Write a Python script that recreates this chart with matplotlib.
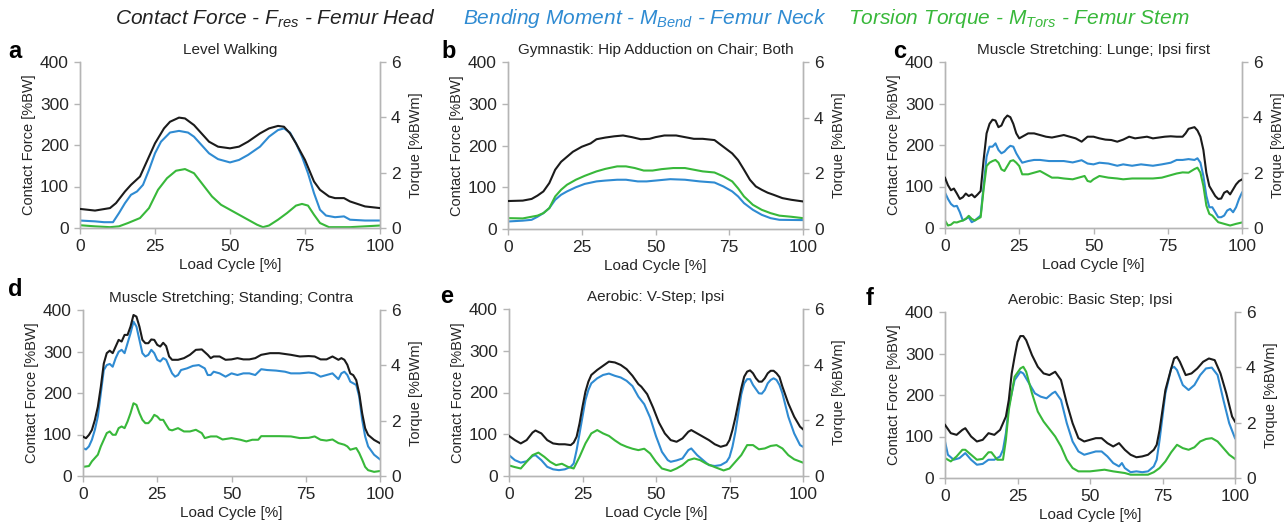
import matplotlib
matplotlib.use("Agg")
import matplotlib.pyplot as plt

plt.rcParams['font.family'] = ['Liberation Sans', 'DejaVu Sans']
plt.rcParams['mathtext.fontset'] = 'custom'
plt.rcParams['mathtext.rm'] = 'Liberation Sans'
plt.rcParams['mathtext.it'] = 'Liberation Sans:italic'

# ---- data: contact force [%BW] (black), bending / torsion [%BWm] (blue / green)
# a - Level Walking
a_force_x = [0, 5, 10, 12, 15, 17, 20, 22, 25, 28, 30, 33, 35, 38, 40, 43, 46, 50, 53, 56, 60, 63,
             66, 68, 70, 72, 75, 78, 80, 83, 85, 88, 90, 95, 100]
a_force = [46, 42, 48, 60, 88, 104, 124, 156, 204, 240, 256, 266, 264, 248, 232, 208, 196, 192, 196,
           208, 228, 240, 246, 244, 228, 204, 164, 112, 92, 76, 72, 72, 64, 52, 48]
a_bend_x = [0, 5, 8, 11, 13, 15, 17, 19, 21, 23, 25, 27, 30, 33, 36, 38, 40, 43, 46, 50, 53, 56, 60,
            63, 66, 68, 70, 72, 74, 76, 78, 80, 82, 85, 88, 90, 95, 100]
a_bend = [0.27, 0.24, 0.21, 0.21, 0.54, 0.90, 1.20, 1.32, 1.56, 2.10, 2.70, 3.12, 3.45, 3.51, 3.45,
          3.30, 3.06, 2.70, 2.49, 2.37, 2.46, 2.64, 2.94, 3.30, 3.54, 3.60, 3.45, 3.06, 2.58, 1.98,
          1.26, 0.66, 0.45, 0.39, 0.42, 0.30, 0.27, 0.27]
a_tors_x = [0, 5, 10, 13, 16, 20, 23, 26, 29, 32, 35, 38, 41, 44, 47, 50, 53, 56, 59, 61, 63, 66, 69,
            72, 74, 76, 78, 80, 83, 90, 100]
a_tors = [0.10, 0.06, 0.03, 0.06, 0.18, 0.36, 0.72, 1.38, 1.80, 2.07, 2.13, 1.98, 1.56, 1.14, 0.84,
          0.66, 0.48, 0.30, 0.12, 0.03, 0.09, 0.30, 0.54, 0.81, 0.87, 0.81, 0.48, 0.18, 0.03, 0.03, 0.09]

# b - Gymnastik: Hip Adduction on Chair; Both
b_force_x = [0, 5, 8, 10, 12, 14, 16, 18, 20, 22, 25, 28, 30, 33, 36, 39, 42, 45, 48, 50, 53, 57, 60,
             63, 66, 70, 73, 76, 78, 80, 82, 84, 86, 88, 90, 93, 96, 100]
b_force = [67, 68, 72, 80, 90, 110, 142, 161, 173, 185, 197, 205, 215, 219, 222, 224, 220, 215, 216,
           220, 224, 224, 220, 216, 216, 213, 197, 181, 165, 142, 118, 102, 94, 87, 82, 74, 70, 66]
b_bend_x = [0, 5, 8, 10, 12, 14, 16, 18, 20, 23, 26, 30, 33, 37, 40, 44, 47, 50, 55, 60, 65, 70, 73,
            76, 78, 80, 83, 86, 89, 92, 100]
b_bend = [0.27, 0.30, 0.33, 0.44, 0.57, 0.75, 1.05, 1.23, 1.35, 1.50, 1.62, 1.71, 1.74, 1.77, 1.77,
          1.71, 1.71, 1.74, 1.79, 1.77, 1.71, 1.67, 1.53, 1.35, 1.17, 0.93, 0.69, 0.51, 0.39, 0.33, 0.32]
b_tors_x = [0, 5, 8, 10, 12, 14, 16, 18, 20, 23, 26, 30, 33, 37, 40, 43, 46, 49, 52, 56, 60, 63, 66,
            70, 73, 76, 78, 80, 83, 86, 89, 92, 96, 100]
b_tors = [0.39, 0.38, 0.44, 0.48, 0.57, 0.75, 1.17, 1.41, 1.59, 1.77, 1.91, 2.07, 2.16, 2.25, 2.25,
          2.19, 2.10, 2.10, 2.15, 2.19, 2.19, 2.13, 2.07, 2.03, 1.89, 1.71, 1.46, 1.17, 0.87, 0.69,
          0.57, 0.48, 0.44, 0.39]

# c - Muscle Stretching: Lunge; Ipsi first
c_force_x = [0, 1, 2, 3, 4, 5, 6, 7, 8, 9, 10, 11, 12, 13, 14, 15, 16, 17, 18, 19, 20, 21, 22, 23,
             24, 25, 26, 28, 30, 32, 34, 36, 38, 40, 42, 44, 46, 48, 50, 52, 54, 56, 58, 60, 62, 64,
             66, 68, 70, 72, 74, 76, 78, 80, 81, 82, 84, 85, 86, 87, 88, 89, 90, 91, 92, 93, 94, 95,
             96, 97, 98, 99, 100]
c_force = [121, 103, 91, 95, 83, 70, 74, 83, 77, 81, 74, 81, 89, 164, 228, 251, 261, 259, 243, 247,
           263, 271, 267, 251, 228, 216, 220, 228, 228, 224, 220, 218, 221, 224, 220, 216, 208, 220,
           220, 216, 213, 212, 208, 213, 220, 216, 218, 220, 216, 218, 220, 221, 220, 220, 228, 239,
           243, 235, 220, 188, 133, 101, 89, 77, 70, 71, 85, 89, 81, 93, 105, 113, 117]
c_bend_x = [0, 1, 2, 3, 4, 5, 6, 7, 8, 9, 10, 11, 12, 13, 14, 15, 16, 17, 18, 19, 20, 21, 22, 23, 24,
            25, 26, 28, 30, 32, 35, 38, 40, 43, 46, 48, 50, 52, 55, 58, 60, 63, 66, 70, 73, 76, 78,
            80, 82, 84, 85, 86, 87, 88, 89, 90, 91, 92, 93, 94, 95, 96, 97, 98, 99, 100]
c_bend = [1.28, 1.05, 0.87, 0.78, 0.80, 0.57, 0.27, 0.33, 0.39, 0.21, 0.27, 0.36, 0.45, 1.52, 2.58,
          2.94, 2.94, 3.06, 2.82, 2.70, 2.76, 2.88, 2.97, 2.94, 2.70, 2.52, 2.36, 2.42, 2.46, 2.46,
          2.42, 2.42, 2.42, 2.37, 2.45, 2.33, 2.30, 2.36, 2.33, 2.25, 2.30, 2.25, 2.30, 2.25, 2.30,
          2.36, 2.46, 2.46, 2.49, 2.46, 2.52, 2.36, 1.88, 1.16, 0.75, 0.75, 0.57, 0.39, 0.39, 0.45,
          0.63, 0.69, 0.57, 0.75, 1.05, 1.28]
c_tors_x = [0, 1, 2, 3, 4, 5, 6, 7, 8, 9, 10, 11, 12, 13, 14, 15, 16, 17, 18, 19, 20, 21, 22, 23, 24,
            25, 26, 28, 30, 32, 34, 36, 38, 40, 43, 45, 47, 48, 49, 50, 52, 55, 58, 60, 63, 66, 70,
            73, 76, 78, 80, 82, 84, 85, 86, 87, 88, 89, 90, 91, 92, 94, 96, 98, 100]
c_tors = [0.27, 0.09, 0.12, 0.21, 0.20, 0.24, 0.27, 0.33, 0.44, 0.33, 0.27, 0.33, 0.39, 1.40, 2.24,
          2.36, 2.42, 2.46, 2.36, 2.12, 2.06, 2.24, 2.42, 2.45, 2.36, 2.24, 1.94, 1.94, 2.00, 2.06,
          1.94, 1.82, 1.82, 1.79, 1.76, 1.82, 1.88, 1.70, 1.67, 1.76, 1.88, 1.82, 1.79, 1.76, 1.79,
          1.79, 1.79, 1.82, 1.91, 1.97, 2.01, 2.00, 2.13, 2.18, 2.00, 1.52, 0.81, 0.51, 0.45, 0.33,
          0.21, 0.15, 0.09, 0.15, 0.20]

# d - Muscle Stretching; Standing; Contra
d_force_x = [0, 1, 2, 3, 4, 5, 6, 7, 8, 9, 10, 11, 12, 13, 14, 15, 16, 17, 18, 19, 20, 21, 22, 23,
             24, 25, 26, 27, 28, 29, 30, 32, 34, 36, 38, 40, 42, 43, 44, 46, 48, 50, 52, 54, 56, 58,
             60, 63, 66, 70, 73, 76, 78, 80, 82, 84, 86, 87, 88, 89, 90, 91, 92, 93, 94, 95, 96, 98,
             100]
d_force = [95, 91, 99, 111, 135, 167, 215, 271, 296, 302, 296, 312, 328, 324, 340, 340, 360, 388,
           384, 360, 328, 320, 320, 329, 328, 316, 312, 321, 313, 288, 280, 280, 284, 292, 304, 305,
           292, 284, 288, 288, 280, 281, 284, 281, 281, 284, 292, 296, 296, 292, 288, 289, 288, 281,
           281, 288, 280, 284, 280, 268, 247, 243, 231, 199, 151, 115, 99, 87, 79]
d_bend_x = [0, 1, 2, 3, 4, 5, 6, 7, 8, 9, 10, 11, 12, 13, 14, 15, 16, 17, 18, 19, 20, 21, 22, 23, 24,
            25, 26, 27, 28, 29, 30, 31, 32, 33, 35, 37, 39, 41, 42, 43, 44, 46, 48, 50, 52, 54, 56,
            58, 60, 62, 65, 68, 70, 73, 76, 78, 80, 82, 84, 86, 87, 88, 89, 90, 91, 92, 93, 94, 95,
            96, 98, 100]
d_bend = [1.01, 0.96, 1.07, 1.31, 1.67, 2.15, 2.99, 3.83, 4.01, 4.05, 3.95, 4.26, 4.49, 4.56, 4.44,
          4.80, 5.16, 5.58, 5.40, 4.92, 4.44, 4.32, 4.38, 4.56, 4.44, 4.20, 4.14, 4.26, 4.20, 3.95,
          3.71, 3.59, 3.65, 3.83, 3.89, 3.98, 4.01, 3.89, 3.65, 3.65, 3.77, 3.71, 3.59, 3.71, 3.65,
          3.71, 3.71, 3.65, 3.86, 3.83, 3.81, 3.77, 3.71, 3.71, 3.74, 3.71, 3.59, 3.65, 3.71, 3.50,
          3.71, 3.77, 3.65, 3.41, 3.35, 3.29, 2.87, 2.03, 1.43, 1.07, 0.77, 0.60]
d_tors_x = [0, 2, 3, 4, 5, 6, 7, 8, 9, 10, 11, 12, 13, 14, 15, 16, 17, 18, 19, 20, 21, 22, 23, 24, 25,
            26, 27, 28, 29, 30, 32, 34, 36, 38, 40, 41, 43, 45, 47, 50, 53, 55, 57, 59, 60, 63, 66,
            70, 73, 76, 78, 80, 82, 84, 86, 88, 89, 90, 91, 92, 93, 94, 95, 96, 98, 100]
d_tors = [0.33, 0.36, 0.53, 0.65, 0.77, 1.07, 1.31, 1.55, 1.61, 1.49, 1.49, 1.73, 1.79, 1.73, 1.97,
          2.27, 2.63, 2.57, 2.27, 2.03, 1.91, 1.91, 2.03, 2.21, 2.15, 2.03, 2.03, 1.85, 1.68, 1.65,
          1.73, 1.61, 1.61, 1.67, 1.55, 1.37, 1.43, 1.43, 1.32, 1.37, 1.31, 1.25, 1.31, 1.31, 1.44,
          1.44, 1.44, 1.43, 1.37, 1.38, 1.43, 1.31, 1.28, 1.32, 1.19, 1.13, 1.07, 0.95, 0.98, 1.01,
          0.83, 0.59, 0.33, 0.21, 0.15, 0.18]

# e - Aerobic: V-Step; Ipsi
e_force_x = [0, 2, 4, 6, 8, 9, 11, 13, 15, 17, 19, 21, 22, 23, 24, 25, 26, 27, 28, 30, 32, 34, 36, 38,
             40, 42, 44, 45, 47, 49, 51, 53, 55, 57, 59, 61, 62, 64, 66, 68, 70, 72, 74, 75, 76, 77,
             78, 79, 80, 81, 82, 83, 84, 85, 86, 87, 88, 89, 90, 91, 92, 93, 95, 97, 99, 100]
e_force = [96, 86, 78, 86, 104, 109, 102, 86, 78, 76, 76, 74, 80, 94, 126, 166, 202, 226, 242, 254,
           264, 274, 272, 266, 256, 240, 220, 214, 196, 164, 128, 102, 86, 82, 90, 106, 110, 102, 94,
           86, 76, 70, 74, 86, 110, 140, 175, 210, 238, 250, 253, 246, 234, 226, 226, 234, 246, 252,
           252, 246, 237, 214, 174, 142, 118, 112]
e_bend_x = [0, 2, 4, 6, 8, 9, 11, 13, 15, 17, 19, 21, 22, 23, 24, 25, 26, 27, 28, 30, 32, 34, 36, 38,
            40, 42, 44, 46, 48, 50, 52, 54, 55, 57, 59, 61, 62, 64, 66, 68, 70, 72, 74, 75, 76, 77,
            78, 79, 80, 81, 82, 83, 85, 86, 87, 88, 89, 90, 91, 92, 93, 95, 97, 99, 100]
e_bend = [0.75, 0.57, 0.48, 0.53, 0.72, 0.75, 0.57, 0.33, 0.24, 0.21, 0.24, 0.33, 0.45, 0.93, 1.53,
          2.13, 2.73, 3.09, 3.33, 3.51, 3.63, 3.68, 3.60, 3.54, 3.42, 3.23, 2.85, 2.58, 2.10, 1.43,
          0.87, 0.57, 0.51, 0.56, 0.63, 0.93, 0.99, 0.75, 0.57, 0.39, 0.36, 0.39, 0.51, 0.68, 1.05,
          1.58, 2.25, 2.93, 3.33, 3.48, 3.48, 3.27, 2.97, 2.96, 3.09, 3.33, 3.45, 3.51, 3.45, 3.27,
          2.97, 2.13, 1.53, 1.11, 1.05]
e_tors_x = [0, 2, 4, 6, 8, 10, 12, 14, 16, 18, 20, 22, 24, 26, 28, 30, 32, 34, 36, 38, 40, 42, 44, 46,
            48, 50, 52, 55, 57, 59, 61, 63, 65, 67, 70, 73, 75, 77, 79, 81, 83, 85, 87, 89, 91, 93,
            95, 97, 100]
e_tors = [0.38, 0.32, 0.27, 0.51, 0.75, 0.84, 0.69, 0.51, 0.39, 0.44, 0.33, 0.27, 0.69, 1.17, 1.53,
          1.65, 1.53, 1.44, 1.28, 1.14, 1.05, 0.98, 0.93, 0.98, 0.81, 0.51, 0.27, 0.18, 0.27, 0.39,
          0.57, 0.63, 0.57, 0.45, 0.32, 0.20, 0.27, 0.51, 0.75, 1.11, 1.11, 0.96, 0.99, 1.08, 1.11,
          0.99, 0.75, 0.60, 0.48]

# f - Aerobic: Basic Step; Ipsi
f_force_x = [0, 2, 4, 6, 7, 9, 11, 13, 15, 17, 19, 21, 22, 23, 24, 25, 26, 27, 28, 30, 32, 34, 36,
             38, 40, 42, 44, 46, 48, 50, 52, 54, 56, 58, 60, 62, 64, 66, 68, 70, 72, 73, 74, 75, 76,
             78, 79, 80, 81, 83, 85, 87, 89, 91, 93, 95, 97, 99, 100]
f_force = [128, 108, 104, 116, 120, 100, 88, 92, 108, 104, 116, 148, 188, 252, 292, 328, 342, 342,
           332, 296, 268, 252, 248, 256, 236, 180, 132, 96, 88, 92, 96, 96, 84, 76, 84, 68, 56, 50,
           52, 56, 68, 80, 116, 164, 212, 264, 288, 292, 280, 248, 252, 264, 280, 288, 284, 252, 204,
           148, 136]
f_bend_x = [0, 1, 3, 5, 7, 9, 11, 13, 15, 17, 19, 20, 21, 22, 24, 26, 27, 29, 31, 33, 35, 37, 38, 40,
            42, 44, 46, 48, 50, 52, 54, 56, 58, 60, 61, 62, 64, 66, 68, 70, 72, 73, 74, 75, 76, 78,
            79, 80, 82, 84, 86, 88, 90, 92, 94, 96, 98, 100]
f_bend = [1.32, 0.84, 0.66, 0.72, 0.90, 0.66, 0.48, 0.51, 0.66, 0.66, 0.78, 1.02, 1.62, 2.58, 3.54,
          3.84, 3.78, 3.42, 3.06, 2.94, 2.88, 3.06, 3.12, 2.82, 1.98, 1.32, 0.96, 0.84, 0.90, 0.96,
          0.96, 0.78, 0.54, 0.42, 0.54, 0.36, 0.21, 0.24, 0.21, 0.24, 0.42, 0.66, 1.38, 2.22, 3.06,
          3.96, 4.02, 3.90, 3.36, 3.18, 3.36, 3.72, 3.96, 3.99, 3.72, 2.82, 1.98, 1.44]
f_tors_x = [0, 2, 4, 6, 7, 9, 11, 13, 15, 16, 18, 20, 21, 22, 24, 26, 27, 28, 30, 32, 34, 36, 38, 40,
            42, 44, 46, 50, 55, 58, 60, 62, 64, 66, 70, 72, 74, 76, 78, 80, 82, 84, 86, 88, 90, 92,
            94, 96, 98, 100]
f_tors = [0.72, 0.60, 0.78, 1.02, 1.02, 0.84, 0.66, 0.69, 0.93, 0.93, 0.66, 0.66, 1.38, 2.46, 3.66,
          3.96, 4.02, 3.84, 3.06, 2.40, 2.04, 1.77, 1.50, 1.14, 0.66, 0.36, 0.24, 0.24, 0.30, 0.24,
          0.21, 0.18, 0.12, 0.12, 0.12, 0.21, 0.36, 0.60, 0.93, 1.20, 1.08, 1.02, 1.11, 1.32, 1.41,
          1.44, 1.32, 1.08, 0.84, 0.69]

panels = [
    ('a', 'Level Walking', a_force_x, a_force, a_bend_x, a_bend, a_tors_x, a_tors),
    ('b', 'Gymnastik: Hip Adduction on Chair; Both', b_force_x, b_force, b_bend_x, b_bend, b_tors_x, b_tors),
    ('c', 'Muscle Stretching: Lunge; Ipsi first', c_force_x, c_force, c_bend_x, c_bend, c_tors_x, c_tors),
    ('d', 'Muscle Stretching; Standing; Contra', d_force_x, d_force, d_bend_x, d_bend, d_tors_x, d_tors),
    ('e', 'Aerobic: V-Step; Ipsi', e_force_x, e_force, e_bend_x, e_bend, e_tors_x, e_tors),
    ('f', 'Aerobic: Basic Step; Ipsi', f_force_x, f_force, f_bend_x, f_bend, f_tors_x, f_tors),
]

BLACK = '#1b1b1b'
BLUE = '#2f8bd2'
GREEN = '#38b83a'
SPINE = '#b5b5b5'
TXT = '#262626'

W, H = 1288, 523
# axes boxes in pixels: left, right, top, bottom
boxes = [(80, 380, 62, 228), (508, 803, 62, 229), (945, 1242, 62, 228),
         (83, 380, 310, 476), (509, 803, 309, 476), (945, 1235, 312, 478)]
letter_pos = [(8, 58), (441, 58), (893, 58), (8, 296), (440, 303), (866, 305)]

fig = plt.figure(figsize=(W / 100, H / 100), dpi=100)

for (letter, title, fx, fy, bx, by, tx, ty), (l, r, t, b), (lx, ly) in zip(panels, boxes, letter_pos):
    ax = fig.add_axes([l / W, 1 - b / H, (r - l) / W, (b - t) / H])
    ax2 = ax.twinx()

    ax.plot(fx, fy, color=BLACK, lw=1.5, zorder=3)
    ax2.plot(bx, by, color=BLUE, lw=1.5)
    ax2.plot(tx, ty, color=GREEN, lw=1.5)

    ax.set_xlim(0, 100)
    ax.set_ylim(0, 400)
    ax2.set_ylim(0, 6)
    ax.set_xticks([0, 25, 50, 75, 100])
    ax.set_yticks([0, 100, 200, 300, 400])
    ax2.set_yticks([0, 2, 4, 6])

    for a_ in (ax, ax2):
        a_.spines['top'].set_visible(False)
        for s in ('left', 'right', 'bottom'):
            a_.spines[s].set_color(SPINE)
            a_.spines[s].set_linewidth(1.0)
        a_.tick_params(length=4, width=1, color=SPINE, labelsize=12.5, labelcolor=TXT, pad=4)
    ax2.set_zorder(ax.get_zorder() - 1)
    ax.patch.set_visible(False)

    ax.set_xlabel('Load Cycle [%]', fontsize=11, color=TXT, labelpad=3)
    ax.set_ylabel('Contact Force [%BW]', fontsize=10.5, color=TXT, labelpad=3)
    ax2.set_ylabel('Torque [%BWm]', fontsize=10.5, color=TXT, labelpad=6)
    ax.set_title(title, fontsize=11, color=TXT, pad=6)

    fig.text(lx / W, 1 - ly / H, letter, fontsize=17, fontweight='bold', color='black')

# header with line meanings
fig.text(115 / W, 1 - 19 / H, r'Contact Force - $F_{res}$ - Femur Head', fontsize=15,
         style='italic', color='#222222', va='center')
fig.text(463 / W, 1 - 19 / H, r'Bending Moment - $M_{Bend}$ - Femur Neck', fontsize=15,
         style='italic', color=BLUE, va='center')
fig.text(848 / W, 1 - 19 / H, r'Torsion Torque - $M_{Tors}$ - Femur Stem', fontsize=15,
         style='italic', color=GREEN, va='center')

fig.savefig('out.png', dpi=100)
